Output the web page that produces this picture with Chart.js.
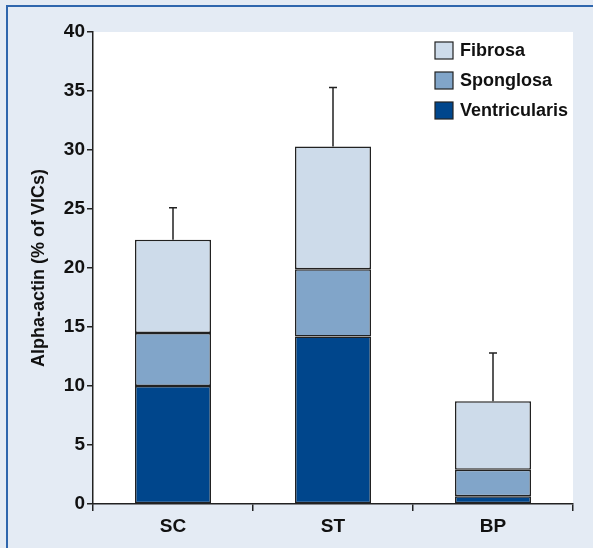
<!DOCTYPE html>
<html>
<head>
<meta charset="utf-8">
<script src="https://cdn.jsdelivr.net/npm/chart.js@4.4.0/dist/chart.umd.min.js"></script>
<style>
  html, body { margin: 0; padding: 0; background: #e4ebf4; overflow: hidden; }
  #frame {
    position: absolute; left: 6px; top: 5px; width: 600px; height: 560px;
    border-left: 2px solid #2f66ad; border-top: 2px solid #2f66ad;
  }
  #wrap { position: absolute; left: 0; top: 0; width: 593px; height: 548px; }
</style>
</head>
<body>
<div id="frame"></div>
<div id="wrap"><canvas id="myChart" width="593" height="548"></canvas></div>
<script>
// Alpha-actin per valve layer, stacked
const categories = ['SC', 'ST', 'BP'];
const ventricularis = [10.0, 14.2, 0.65];
const spongiosa = [4.5, 5.7, 2.25];
const fibrosa = [7.9, 10.4, 5.8];
const errorUp = [2.7, 5.0, 4.1];
const yTicks = [0, 5, 10, 15, 20, 25, 30, 35, 40];

const FONT = '"Liberation Sans", Arial, sans-serif';

// error bars above each stack
const errorBars = {
    id: 'errorBars',
    afterDatasetsDraw(chart) {
        const ctx = chart.ctx;
        const x = chart.scales.x, y = chart.scales.y;
        ctx.save();
        ctx.strokeStyle = '#222';
        ctx.lineWidth = 1.5;
        categories.forEach((c, i) => {
            const total = ventricularis[i] + spongiosa[i] + fibrosa[i];
            const px = x.getPixelForValue(i);
            const y0 = y.getPixelForValue(total);
            const y1 = y.getPixelForValue(total + errorUp[i]);
            ctx.beginPath();
            ctx.moveTo(px, y0);
            ctx.lineTo(px, y1);
            ctx.moveTo(px - 4, y1);
            ctx.lineTo(px + 4, y1);
            ctx.stroke();
        });
        ctx.restore();
    }
};

// white plot background
const plotBg = {
    id: 'plotBg',
    beforeDraw(chart) {
        const a = chart.chartArea;
        const ctx = chart.ctx;
        ctx.save();
        ctx.fillStyle = '#ffffff';
        ctx.fillRect(a.left, a.top, a.right - a.left, a.bottom - a.top);
        ctx.restore();
    }
};

// legend inside the plot, top right
const innerLegend = {
    id: 'innerLegend',
    afterDraw(chart) {
        const ctx = chart.ctx;
        const sets = chart.data.datasets.slice().reverse();
        ctx.save();
        ctx.font = 'bold 18px ' + FONT;
        ctx.textBaseline = 'middle';
        sets.forEach((ds, i) => {
            const top = 42 + i * 30;
            ctx.fillStyle = ds.backgroundColor;
            ctx.fillRect(435, top, 18, 17);
            ctx.strokeStyle = '#222';
            ctx.lineWidth = 1.2;
            ctx.strokeRect(435, top, 18, 17);
            ctx.fillStyle = '#111';
            ctx.fillText(ds.label, 460, top + 9);
        });
        ctx.restore();
    }
};

const common = {
    borderColor: '#222',
    borderWidth: 1.5,
    borderSkipped: false,
    barPercentage: 0.475,
    categoryPercentage: 1.0
};

new Chart(document.getElementById('myChart'), {
    type: 'bar',
    data: {
        labels: categories,
        datasets: [
            Object.assign({ label: 'Ventricularis', data: ventricularis, backgroundColor: '#00468c' }, common),
            Object.assign({ label: 'Sponglosa', data: spongiosa, backgroundColor: '#81a5c9' }, common),
            Object.assign({ label: 'Fibrosa', data: fibrosa, backgroundColor: '#cddbea' }, common)
        ]
    },
    options: {
        responsive: false,
        animation: false,
        layout: { padding: { top: 32, right: 20, left: 0, bottom: 0 } },
        plugins: {
            legend: { display: false },
            tooltip: { enabled: false }
        },
        scales: {
            x: {
                stacked: true,
                afterFit(scale) { scale.height = 44; },
                grid: { offset: true, drawOnChartArea: false, tickLength: 7, color: '#222', lineWidth: 1.5 },
                border: { color: '#222', width: 1.5 },
                ticks: { color: '#111', padding: 4, font: { family: FONT, size: 19, weight: 'bold' } }
            },
            y: {
                stacked: true,
                min: 0,
                max: 40,
                afterFit(scale) { scale.width = 93; },
                afterBuildTicks(scale) { scale.ticks = yTicks.map(v => ({ value: v })); },
                grid: { drawOnChartArea: false, tickLength: 6, color: '#222', lineWidth: 1.5 },
                border: { color: '#222', width: 1.5 },
                ticks: { color: '#111', padding: 2, font: { family: FONT, size: 19, weight: 'bold' } },
                title: {
                    display: true,
                    text: 'Alpha-actin (% of VICs)',
                    color: '#111',
                    padding: { top: 28, bottom: 0 },
                    font: { family: FONT, size: 18, weight: 'bold' }
                }
            }
        }
    },
    plugins: [plotBg, errorBars, innerLegend]
});
</script>
</body>
</html>
